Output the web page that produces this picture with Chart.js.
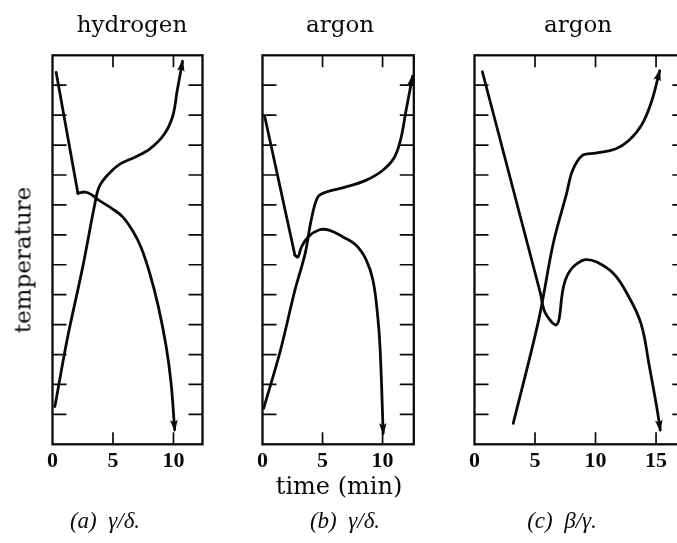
<!DOCTYPE html>
<html><head><meta charset="utf-8">
<script src="https://cdn.jsdelivr.net/npm/chart.js@4.4.1/dist/chart.umd.min.js"></script>
<style>
html,body{margin:0;padding:0;background:#fff;}
body{width:677px;height:543px;position:relative;overflow:hidden;}
canvas{position:absolute;top:0;}
.t{position:absolute;white-space:pre;color:#0a0a0a;transform:translateX(-50%);}
.title{font-family:"DejaVu Serif",serif;font-size:23px;line-height:23px;}
.cap{font-family:"Liberation Serif",serif;font-style:italic;font-size:23px;line-height:23px;}
#ylab{position:absolute;left:22.5px;top:260px;font-family:"DejaVu Serif",serif;font-size:23px;line-height:23px;color:#0a0a0a;white-space:pre;transform:translate(-50%,-50%) rotate(-90deg);}
</style></head><body>
<canvas id="ca" width="230" height="543" style="left:0px"></canvas>
<canvas id="cb" width="220" height="543" style="left:230px"></canvas>
<canvas id="cc" width="280" height="543" style="left:440px"></canvas>
<div id="tA" class="t title" style="left:132px;top:12.5px"></div>
<div id="tB" class="t title" style="left:340px;top:12.5px"></div>
<div id="tC" class="t title" style="left:578px;top:12.5px"></div>
<div id="ylab"></div>
<div id="xlab" class="t title" style="left:339px;top:474px;font-size:24px;line-height:24px;"></div>
<div id="capA" class="t cap" style="left:105px;top:509px"></div>
<div id="capB" class="t cap" style="left:345px;top:509px"></div>
<div id="capC" class="t cap" style="left:562px;top:509px"></div>
<script>
// ---- text ----
const panelTitles = ['hydrogen', 'argon', 'argon'];
const panelCaptions = ['(a)  γ/δ.', '(b)  γ/δ.', '(c)  β/γ.'];
const xAxisTitle = 'time (min)';
const yAxisTitle = 'temperature';

// ---- tick labels / marks ----
const xTicksAB = [0, 5, 10];
const xTicksC = [0, 5, 10, 15];
const yTickMarks = [1, 2, 3, 4, 5, 6, 7, 8, 9, 10, 11, 12];

// ---- panel (a) hydrogen ----
const aFallLineT = [0.3, 2.1];
const aFallLineV = [12.43, 8.39];
const aFallCurveT = [2.1, 2.7, 3.2, 3.85, 4.95, 5.8, 6.6, 7.3, 8.05, 8.75, 9.4, 9.8, 10.1];
const aFallCurveV = [8.39, 8.43, 8.35, 8.15, 7.87, 7.6, 7.15, 6.6, 5.7, 4.6, 3.26, 2.05, 0.48];
const aRiseT = [0.2, 1.2, 2.5, 3.45, 3.85, 4.65, 5.6, 6.85, 8.05, 9.25, 9.95, 10.3, 10.75];
const aRiseV = [1.26, 3.48, 5.93, 7.93, 8.6, 9.04, 9.37, 9.6, 9.87, 10.37, 10.98, 11.8, 12.8];

// ---- panel (b) argon ----
const bFallLineT = [0.2, 2.7];
const bFallLineV = [10.93, 6.32];
const bFallCurveT = [2.7, 2.95, 3.25, 3.8, 4.75, 5.6, 6.7, 7.8, 8.65, 9.2, 9.6, 9.8, 10.05];
const bFallCurveV = [6.32, 6.26, 6.6, 6.93, 7.17, 7.15, 6.93, 6.65, 6.15, 5.48, 4.26, 3.15, 0.37];
const bRiseT = [0.1, 1.5, 2.7, 3.55, 4.05, 4.6, 5.3, 6.95, 8.6, 10.0, 11.0, 11.55, 11.95, 12.5];
const bRiseV = [1.2, 3.15, 5.15, 6.37, 7.48, 8.26, 8.43, 8.6, 8.82, 9.15, 9.6, 10.26, 11.15, 12.3];

// ---- panel (c) argon ----
const cFallLineT = [0.65, 5.45];
const cFallLineV = [12.45, 5.04];
const cFallCurveT = [5.45, 5.75, 6.15, 6.55, 6.8, 7.0, 7.25, 7.5, 7.9, 8.45, 9.15, 10.1, 11.5, 12.6, 13.75, 14.45, 15.05, 15.35];
const cFallCurveV = [5.04, 4.48, 4.2, 4.02, 4.0, 4.2, 5.04, 5.48, 5.81, 6.03, 6.17, 6.09, 5.7, 5.04, 4.04, 2.6, 1.26, 0.48];
const cRiseT = [3.2, 5.3, 6.5, 7.6, 8.1, 8.9, 10.0, 11.65, 12.75, 13.85, 14.65, 15.3];
const cRiseV = [0.7, 4.15, 6.7, 8.37, 9.15, 9.65, 9.73, 9.87, 10.15, 10.7, 11.48, 12.48];

document.getElementById('tA').textContent = panelTitles[0];
document.getElementById('tB').textContent = panelTitles[1];
document.getElementById('tC').textContent = panelTitles[2];
document.getElementById('capA').textContent = panelCaptions[0];
document.getElementById('capB').textContent = panelCaptions[1];
document.getElementById('capC').textContent = panelCaptions[2];
document.getElementById('xlab').textContent = xAxisTitle;
document.getElementById('ylab').textContent = yAxisTitle;

const INK = '#0a0a0a';
const pts = (t, v) => t.map((x, i) => ({x: x, y: v[i]}));
const ds = (t, v, tension, arrow) => ({
  data: pts(t, v), borderColor: INK, borderWidth: 2.8, pointRadius: 0,
  tension: tension, fill: false, arrow: arrow, borderCapStyle: 'round', borderJoinStyle: 'round'
});

const framePlugin = {
  id: 'frame',
  afterDatasetsDraw(chart, args, opts) {
    const ctx = chart.ctx, a = chart.chartArea, x = chart.scales.x, y = chart.scales.y;
    ctx.save();
    ctx.strokeStyle = INK;
    ctx.lineWidth = 1.7;
    ctx.beginPath();
    opts.xMarks.filter(v => v > 0).forEach(v => {
      const px = x.getPixelForValue(v);
      ctx.moveTo(px, a.bottom); ctx.lineTo(px, a.bottom - 12);
      ctx.moveTo(px, a.top); ctx.lineTo(px, a.top + 12);
    });
    yTickMarks.forEach(v => {
      const py = y.getPixelForValue(v);
      ctx.moveTo(a.left, py); ctx.lineTo(a.left + 14, py);
      ctx.moveTo(a.right, py); ctx.lineTo(a.right - 14, py);
    });
    ctx.stroke();
    ctx.lineWidth = 2.3;
    ctx.strokeRect(a.left, a.top, a.right - a.left, a.bottom - a.top);
    chart.data.datasets.forEach((d, i) => {
      if (!d.arrow) return;
      const el = chart.getDatasetMeta(i).data;
      const p = el[el.length - 1];
      let qx = p.cp1x, qy = p.cp1y;
      if (qx === undefined || (Math.abs(qx - p.x) < 0.5 && Math.abs(qy - p.y) < 0.5)) {
        qx = el[el.length - 2].x; qy = el[el.length - 2].y;
      }
      const ang = Math.atan2(p.y - qy, p.x - qx);
      const c = Math.cos(ang), s = Math.sin(ang);
      const tx = p.x + 2 * c, ty = p.y + 2 * s;
      const L = 12, W = 3.8;
      ctx.fillStyle = INK;
      ctx.beginPath();
      ctx.moveTo(tx, ty);
      ctx.lineTo(tx - L * c + W * s, ty - L * s - W * c);
      ctx.lineTo(tx - L * c * 0.8, ty - L * s * 0.8);
      ctx.lineTo(tx - L * c - W * s, ty - L * s + W * c);
      ctx.closePath();
      ctx.fill();
    });
    ctx.restore();
  }
};

function makePanel(id, xmax, xTicks, pad, datasets) {
  new Chart(document.getElementById(id), {
    type: 'line',
    data: {datasets: datasets},
    plugins: [framePlugin],
    options: {
      responsive: false, animation: false, devicePixelRatio: 1, events: [],
      layout: {padding: pad},
      plugins: {legend: {display: false}, tooltip: {enabled: false}, frame: {xMarks: xTicks}},
      scales: {
        x: {
          type: 'linear', min: 0, max: xmax, position: 'bottom',
          grid: {display: false, drawTicks: false}, border: {display: false},
          ticks: {color: INK, padding: 4, maxRotation: 0, autoSkip: false,
                  font: {family: 'Liberation Serif', size: 22, weight: 'bold'}},
          afterBuildTicks: s => { s.ticks = xTicks.map(v => ({value: v})); },
          afterFit: s => { s.height = 40; }
        },
        y: {type: 'linear', min: 0, max: 13, display: false}
      }
    }
  });
}

makePanel('ca', 12.4, xTicksAB, {left: 52.5, right: 27.5, top: 55.3, bottom: 58.7}, [
  ds(aFallLineT, aFallLineV, 0, false),
  ds(aFallCurveT, aFallCurveV, 0.4, true),
  ds(aRiseT, aRiseV, 0.35, true)
]);
makePanel('cb', 12.6, xTicksAB, {left: 32.5, right: 36.2, top: 55.3, bottom: 58.7}, [
  ds(bFallLineT, bFallLineV, 0, false),
  ds(bFallCurveT, bFallCurveV, 0.4, true),
  ds(bRiseT, bRiseV, 0.35, true)
]);
makePanel('cc', 17.5, xTicksC, {left: 34.5, right: 33.7, top: 55.3, bottom: 58.7}, [
  ds(cFallLineT, cFallLineV, 0, false),
  ds(cFallCurveT, cFallCurveV, 0.4, true),
  ds(cRiseT, cRiseV, 0.35, true)
]);
</script>
</body></html>
